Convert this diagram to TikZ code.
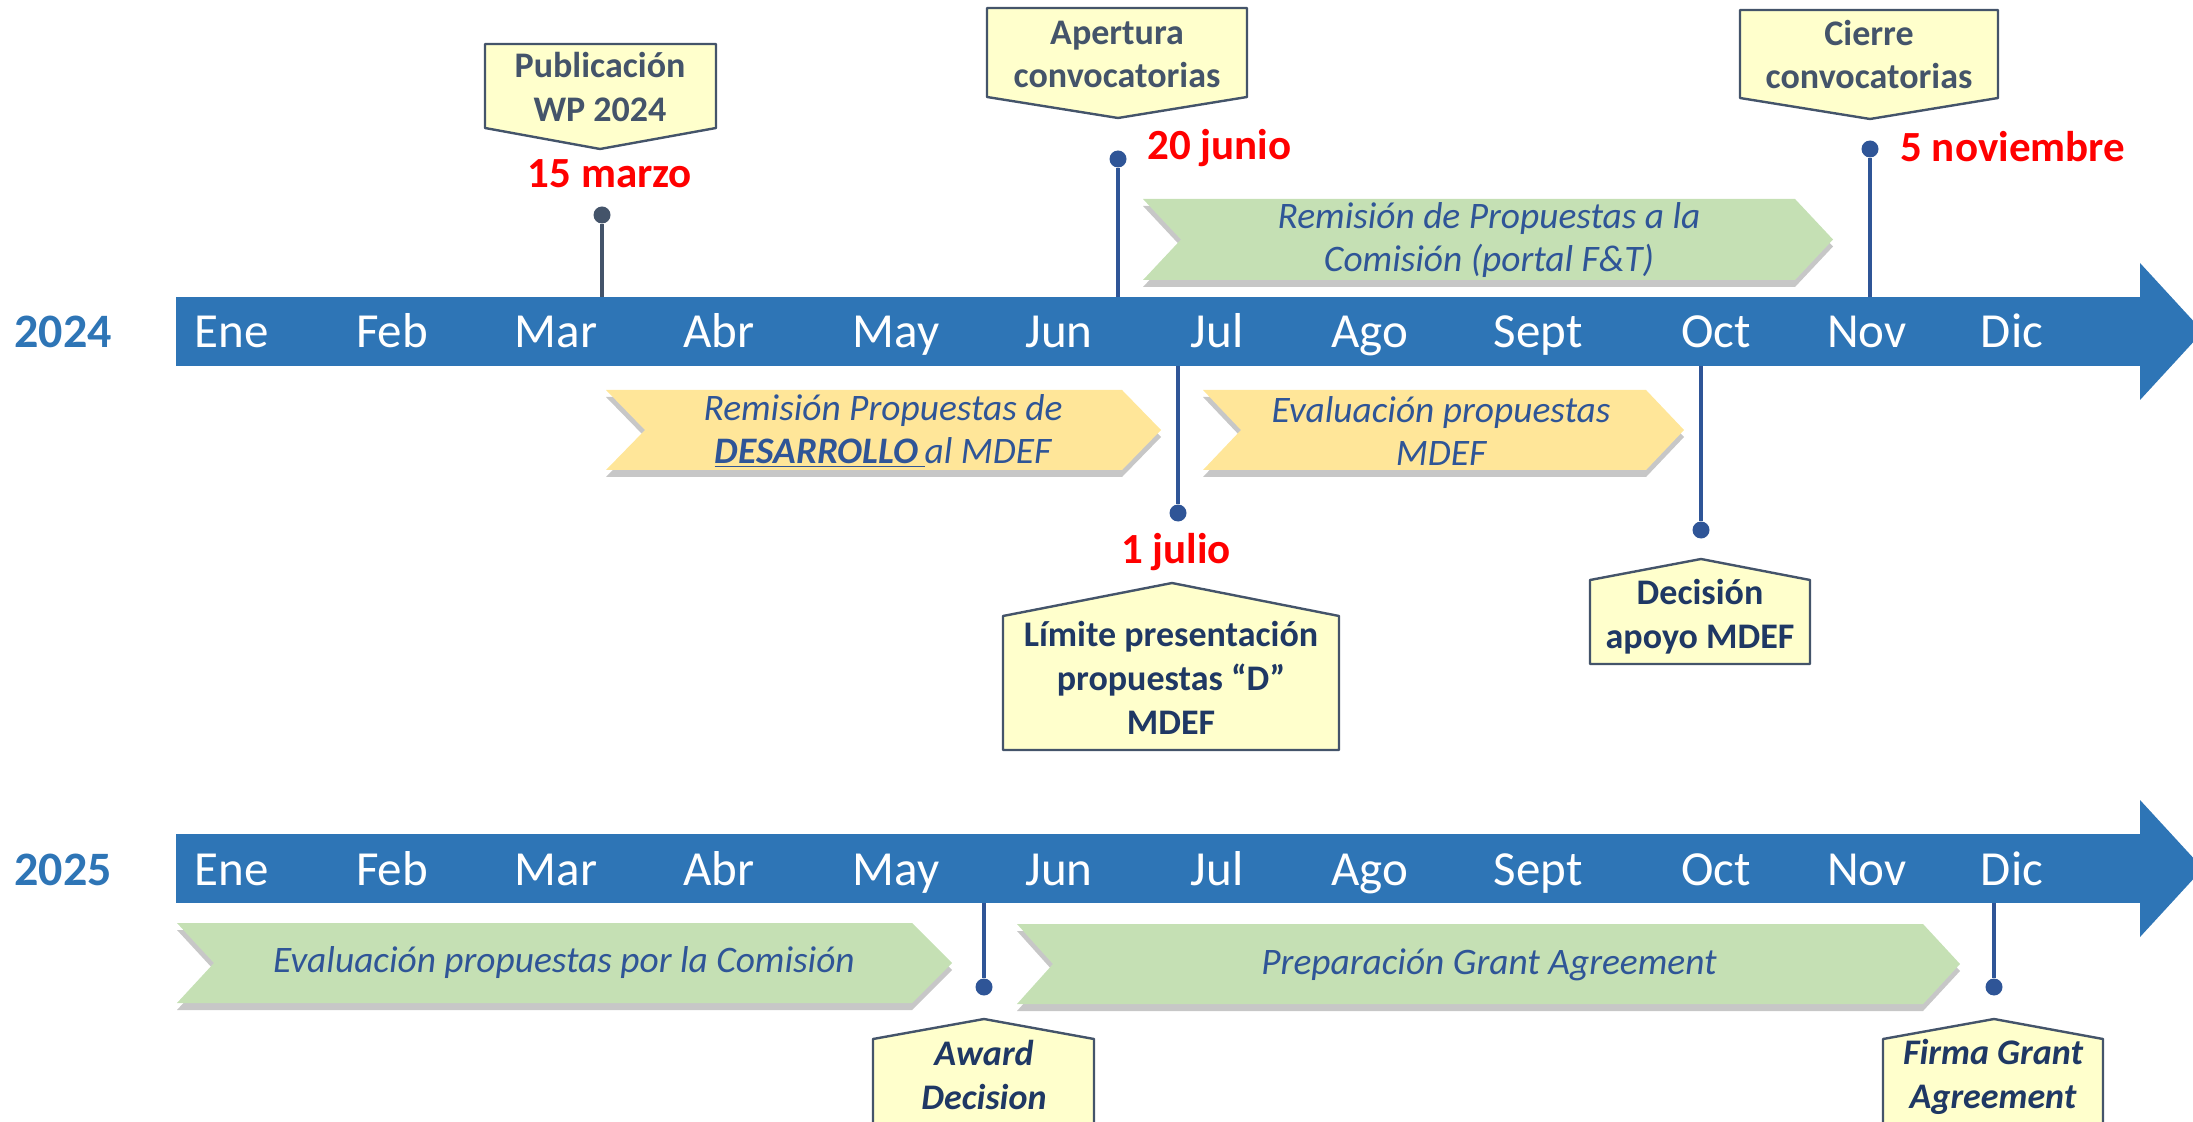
\documentclass[tikz,border=0pt]{standalone}
\usepackage{fontspec}
\setmainfont{Carlito}
\usepackage{xcolor}
\usepackage{tikz}
\usetikzlibrary{shadows}

\definecolor{barblue}{HTML}{2E75B6}
\definecolor{tagfill}{HTML}{FFFFCC}
\definecolor{tagline}{HTML}{44546A}
\definecolor{tagnavy}{HTML}{1F3864}
\definecolor{chevgreen}{HTML}{C5E0B4}
\definecolor{chevyellow}{HTML}{FFE699}
\definecolor{chevblue}{HTML}{2F5597}

\begin{document}
\begin{tikzpicture}[x=0.5pt, y=-0.5pt, line join=round,
    month/.style={text=white, font=\fontsize{24.5}{28}\selectfont, anchor=base},
    yearlbl/.style={text=barblue, font=\fontsize{24}{28}\selectfont\bfseries, anchor=base},
    bar/.style={fill=barblue, inner sep=0pt, outer sep=0pt, minimum width=982.5pt, minimum height=34.5pt},
    tagbox/.style={fill=tagfill, draw=tagline, line width=1.2pt},
    tagtext/.style={text=tagline, font=\fontsize{18}{21.5}\selectfont\bfseries, align=center},
    tagtextb/.style={text=tagnavy, font=\fontsize{18}{22}\selectfont\bfseries, align=center},
    datelbl/.style={text=red, font=\fontsize{21.5}{24}\selectfont\bfseries, anchor=base, inner sep=0pt},
    chevron/.style={drop shadow={shadow xshift=0pt, shadow yshift=-3.5pt, opacity=0.22, fill=black}},
    chevtext/.style={text=chevblue, font=\fontsize{18.7}{21.5}\selectfont\itshape, align=center},
    pindot/.style={circle, fill=chevblue, inner sep=0pt, minimum size=8.5pt},
    pinline/.style={draw=chevblue, line width=2pt}
]
    \useasboundingbox (0,0) rectangle (2193,1122);
    \clip (0,0) rectangle (2193,1122);

    % Timeline bars
    \node[bar] (bar24) at (1158.5,331.5) {};
    \fill[barblue] (2140,263) -- (2203,331.5) -- (2140,400) -- cycle;
    \node[bar] (bar25) at (1158.5,868.5) {};
    \fill[barblue] (2140,800) -- (2203,868.5) -- (2140,937) -- cycle;

    % Years
    \node[yearlbl] (y24) at (63,348) {2024};
    \node[yearlbl] (y25) at (63,885) {2025};

    % Months
    \foreach \m/\x in {Ene/232, Feb/392, Mar/556, Abr/719, May/896, Jun/1059,
                       Jul/1217, Ago/1370, Sept/1538, Oct/1716, Nov/1867, Dic/2012}{
        \node[month] (m24-\m) at (\x,348) {\m};
        \node[month] (m25-\m) at (\x,885) {\m};
    }

    % 2024 phases
    \fill[chevgreen, chevron] (1143,199) -- (1795,199) -- (1833,239.5) -- (1795,280) -- (1143,280) -- (1181,239.5) -- cycle;
    \node[chevtext] (ph-rem) at (1489,240) {Remisión de Propuestas a la\\Comisión (portal F\&T)};

    \fill[chevyellow, chevron] (606,390) -- (1122,390) -- (1161,430) -- (1122,470) -- (606,470) -- (645,430) -- cycle;
    \node[chevtext] (ph-des) at (883,431) {Remisión Propuestas de\\\underline{\textbf{DESARROLLO}\,}al MDEF};

    \fill[chevyellow, chevron] (1203,390) -- (1646,390) -- (1684,430) -- (1646,470) -- (1203,470) -- (1241,430) -- cycle;
    \node[chevtext] (ph-eva) at (1441,431) {Evaluación propuestas\\MDEF};

    % 2025 phases
    \fill[chevgreen, chevron] (177,923) -- (912,923) -- (952,963) -- (912,1003) -- (177,1003) -- (214,963) -- cycle;
    \node[chevtext] (ph-com) at (564,963) {Evaluación propuestas por la Comisión};

    \fill[chevgreen, chevron] (1017,924) -- (1923,924) -- (1960,964) -- (1923,1004) -- (1017,1004) -- (1053,964) -- cycle;
    \node[chevtext] (ph-gra) at (1489,965) {Preparación Grant Agreement};

    % Pins
    \node[pindot, fill=tagline] (pin1) at (602,215) {};
    \draw[pinline, draw=tagline] (pin1) -- (pin1 |- bar24.north);
    \node[pindot] (pin2) at (1118,159) {};
    \draw[pinline] (pin2) -- (pin2 |- bar24.north);
    \node[pindot] (pin3) at (1870,149) {};
    \draw[pinline] (pin3) -- (pin3 |- bar24.north);
    \node[pindot] (pin4) at (1178,513) {};
    \draw[pinline] (pin4) -- (pin4 |- bar24.south);
    \node[pindot] (pin5) at (1701,530) {};
    \draw[pinline] (pin5) -- (pin5 |- bar24.south);
    \node[pindot] (pin6) at (984,987) {};
    \draw[pinline] (pin6) -- (pin6 |- bar25.south);
    \node[pindot] (pin7) at (1994,987) {};
    \draw[pinline] (pin7) -- (pin7 |- bar25.south);

    % Dates
    \node[datelbl] (d-mar) at (610,188) {15 marzo};
    \node[datelbl, anchor=base west] (d-jun) at (1147,160) {20 junio};
    \node[datelbl, anchor=base west] (d-nov) at (1900,162) {5 noviembre};
    \node[datelbl] (d-jul) at (1176,563) {1 julio};

    % Milestone tags above
    \filldraw[tagbox] (485,44) -- (716,44) -- (716,128) -- (600,149) -- (485,128) -- cycle;
    \node[tagtext] (t-pub) at (600,87) {Publicación\\WP 2024};
    \filldraw[tagbox] (987,8) -- (1247,8) -- (1247,97) -- (1118,118) -- (987,97) -- cycle;
    \node[tagtext] (t-ape) at (1117,54) {Apertura\\convocatorias};
    \filldraw[tagbox] (1740,10) -- (1998,10) -- (1998,98) -- (1870,119) -- (1740,98) -- cycle;
    \node[tagtext] (t-cie) at (1869,55) {Cierre\\convocatorias};

    % Milestone tags below
    \filldraw[tagbox] (1003,750) -- (1003,616) -- (1172,583) -- (1339,616) -- (1339,750) -- cycle;
    \node[tagtextb] (t-lim) at (1171,678) {Límite presentación\\propuestas “D”\\MDEF};
    \filldraw[tagbox] (1590,664) -- (1590,580) -- (1701,559) -- (1810,580) -- (1810,664) -- cycle;
    \node[tagtextb] (t-dec) at (1700,617) {Decisión\\apoyo MDEF};
    \filldraw[tagbox] (873,1130) -- (873,1039) -- (984,1019) -- (1094,1039) -- (1094,1130) -- cycle;
    \node[tagtextb, font=\fontsize{18}{22}\selectfont\bfseries\itshape] (t-awd) at (984,1075) {Award\\Decision};
    \filldraw[tagbox] (1883,1130) -- (1883,1039) -- (1994,1019) -- (2103,1039) -- (2103,1130) -- cycle;
    \node[tagtextb, font=\fontsize{18}{22}\selectfont\bfseries\itshape] (t-fir) at (1993,1077) {Firma Grant\\Agreement};

\end{tikzpicture}
\end{document}
